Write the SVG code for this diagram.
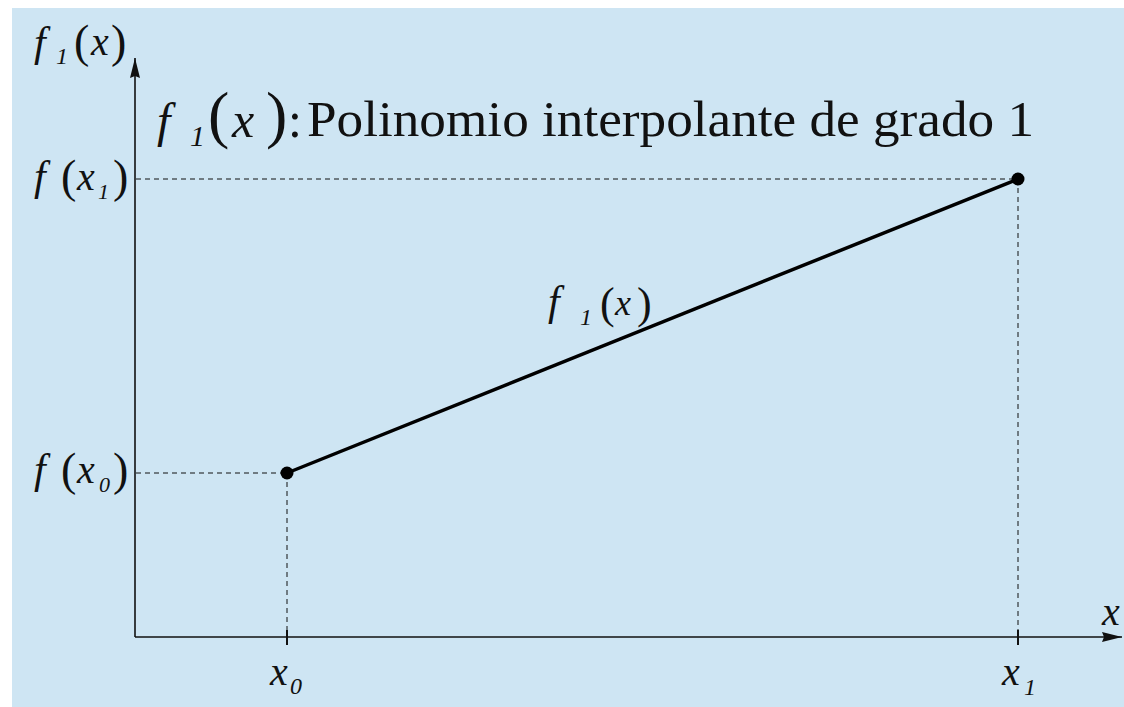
<svg xmlns="http://www.w3.org/2000/svg" width="1124" height="707" viewBox="0 0 1124 707">
<style>
text{font-family:'Liberation Serif','Times New Roman',serif;fill:#111}
.i{font-style:italic}
.dash{stroke:#111;stroke-width:1;stroke-dasharray:5 4;fill:none}
.axis{stroke:#111;stroke-width:1.6;fill:none}
</style>
<defs>
<marker id="ah" markerWidth="20" markerHeight="10" refX="20" refY="5" orient="auto" markerUnits="userSpaceOnUse">
<path d="M0,0 L20,5 L0,10 L2,5 Z" fill="#111"/>
</marker>
</defs>
<rect x="12" y="8" width="1112" height="699" fill="#cee5f3"/>
<g id="connectors">
<line class="dash" x1="136" y1="179" x2="1018" y2="179"/>
<line class="dash" x1="136" y1="473" x2="287" y2="473"/>
<line class="dash" x1="287" y1="473" x2="287" y2="637"/>
<line class="dash" x1="1018" y1="179" x2="1018" y2="637"/>
<line class="axis" x1="135" y1="637" x2="135" y2="58" marker-end="url(#ah)"/>
<line class="axis" x1="135" y1="637" x2="1122" y2="637" marker-end="url(#ah)"/>
<line x1="287" y1="630" x2="287" y2="645" stroke="#111" stroke-width="2"/>
<line x1="1018" y1="630" x2="1018" y2="645" stroke="#111" stroke-width="2"/>
<line x1="287" y1="473" x2="1018" y2="179" stroke="#000" stroke-width="3.5"/>
</g>
<g id="p0"><circle cx="287" cy="473" r="6.5" fill="#000"/></g>
<g id="p1"><circle cx="1018" cy="179" r="6.5" fill="#000"/></g>
<g id="ylabel">
<text class="i" x="34" y="56" font-size="42">f</text>
<text class="i" x="56" y="64" font-size="24">1</text>
<text x="74" y="57" font-size="46">(</text>
<text class="i" x="91" y="55" font-size="40">x</text>
<text x="111" y="57" font-size="46">)</text>
</g>
<g id="fx1">
<text class="i" x="34" y="190" font-size="42">f</text>
<text x="61" y="192" font-size="46">(</text>
<text class="i" x="77" y="190" font-size="40">x</text>
<text class="i" x="98" y="199" font-size="22">1</text>
<text x="113" y="192" font-size="46">)</text>
</g>
<g id="fx0">
<text class="i" x="34" y="483" font-size="42">f</text>
<text x="61" y="485" font-size="46">(</text>
<text class="i" x="77" y="483" font-size="40">x</text>
<text class="i" x="99" y="492" font-size="22">0</text>
<text x="113" y="485" font-size="46">)</text>
</g>
<g id="x0label">
<text class="i" x="270" y="685" font-size="40">x</text>
<text class="i" x="290" y="694" font-size="24">0</text>
</g>
<g id="x1label">
<text class="i" x="1002" y="685" font-size="40">x</text>
<text class="i" x="1024" y="695" font-size="24">1</text>
</g>
<g id="xaxislabel">
<text class="i" x="1102" y="625" font-size="40">x</text>
</g>
<g id="midlabel">
<text class="i" x="548" y="315" font-size="42">f</text>
<text class="i" x="580" y="325" font-size="24">1</text>
<text x="600" y="318" font-size="44">(</text>
<text class="i" x="615" y="315" font-size="36">x</text>
<text x="637" y="318" font-size="44">)</text>
</g>
<g id="title">
<text class="i" x="157" y="137" font-size="48">f</text>
<text class="i" x="190" y="146" font-size="30">1</text>
<text x="208" y="136" font-size="64">(</text>
<text class="i" x="232" y="137" font-size="50">x</text>
<text x="266" y="136" font-size="64">)</text>
<text x="288" y="137" font-size="50">:</text>
<text x="307" y="136" font-size="51" textLength="727" lengthAdjust="spacingAndGlyphs">Polinomio interpolante de grado 1</text>
</g>
</svg>
